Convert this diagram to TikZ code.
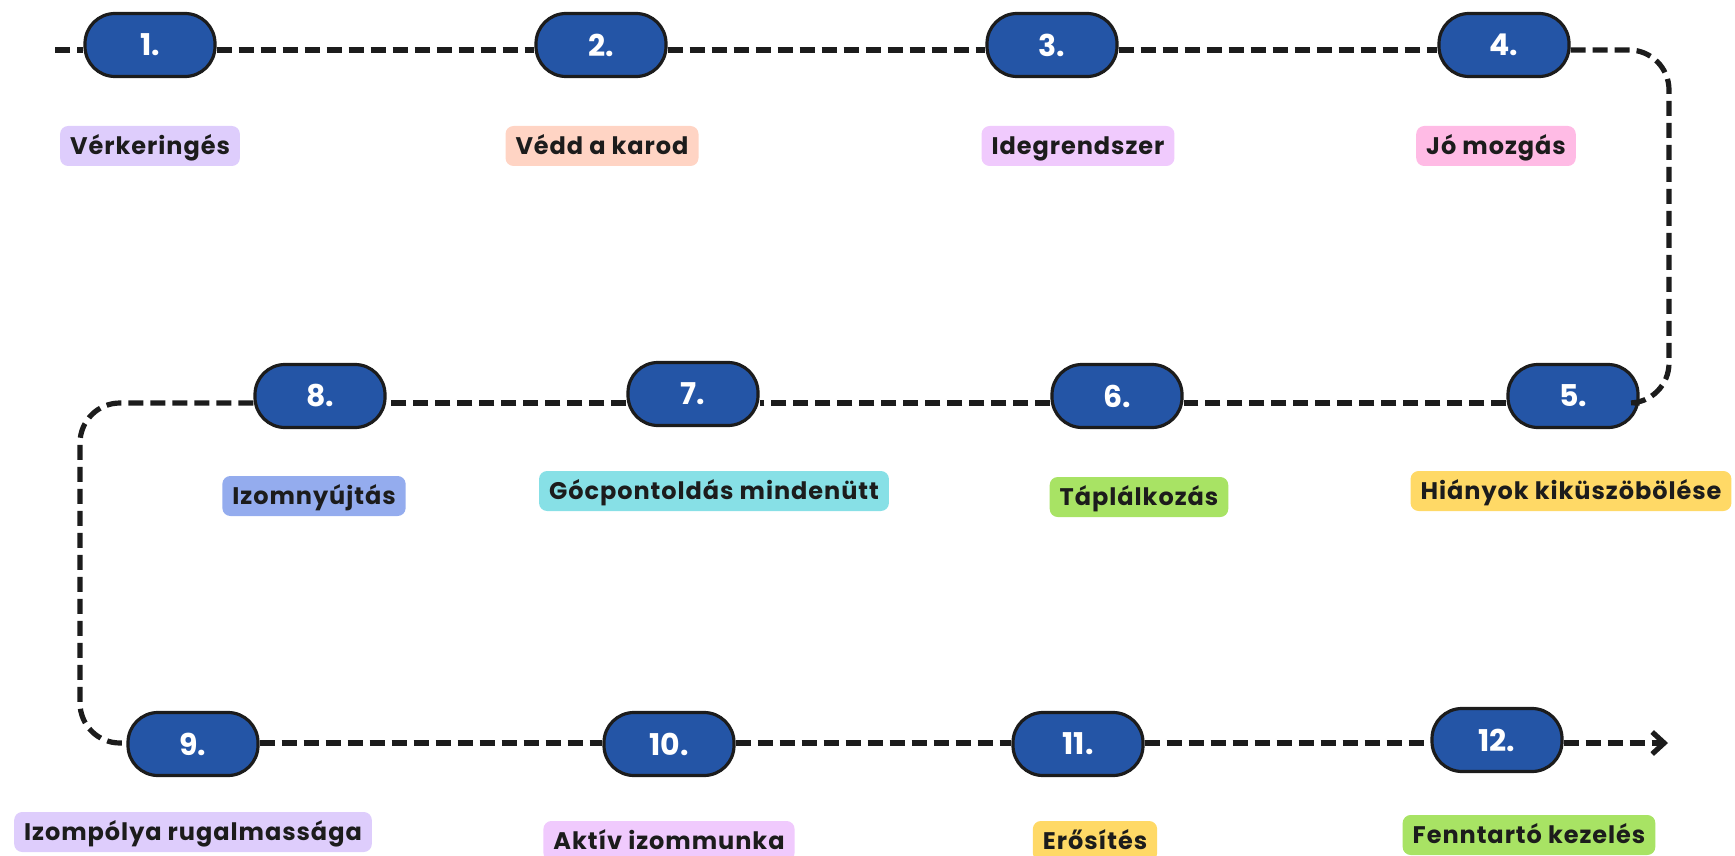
\documentclass[tikz,border=0pt]{standalone}
\usepackage{fontspec}
\setmainfont{Poppins}
\usetikzlibrary{arrows.meta}
\definecolor{nodeblue}{RGB}{36,85,166}
\definecolor{txt}{RGB}{28,28,28}
\definecolor{cLav}{RGB}{222,205,252}
\definecolor{cPeach}{RGB}{255,212,196}
\definecolor{cOrch}{RGB}{240,202,253}
\definecolor{cPink}{RGB}{255,187,229}
\definecolor{cYel}{RGB}{255,217,102}
\definecolor{cGrn}{RGB}{168,227,100}
\definecolor{cCyan}{RGB}{135,224,230}
\definecolor{cPeri}{RGB}{148,172,238}
\begin{document}
\begin{tikzpicture}[x=0.5pt,y=-0.5pt,
  stepnode/.style={draw=txt, line width=1.6pt, fill=nodeblue, rounded corners=15pt,
    minimum width=65pt, minimum height=31.5pt, inner sep=0pt, text=white,
    font=\fontsize{15}{17}\selectfont\bfseries},
  lbl/.style={rounded corners=4pt, minimum height=20pt, inner xsep=5pt, inner ysep=0pt,
    text height=8.4pt, text depth=0pt, text=txt,
    font=\fontsize{12}{14}\selectfont\bfseries\addfontfeatures{LetterSpace=4}},
  flow/.style={line width=2.6pt, dash pattern=on 7.5pt off 3.5pt, draw=txt}]
\useasboundingbox (0,0) rectangle (1735,856);
% row line levels
\coordinate (r1) at (0,50);
\coordinate (r2) at (0,403);
\coordinate (r3) at (0,743);
\coordinate (start) at (55,50);
\coordinate (rc) at (1669,220);
\coordinate (lc) at (80,570);
\coordinate (end) at (1668,743);
% step nodes
\node[stepnode] (n1) at (150,45) {1.};
\node[stepnode] (n2) at (601,45) {2.};
\node[stepnode] (n3) at (1052,45) {3.};
\node[stepnode] (n4) at (1504,45) {4.};
\node[stepnode] (n5) at (1573,396) {5.};
\node[stepnode] (n6) at (1117,396) {6.};
\node[stepnode] (n7) at (693,394) {7.};
\node[stepnode] (n8) at (320,396) {8.};
\node[stepnode] (n9) at (193,744) {9.};
\node[stepnode] (n10) at (669,744) {10.};
\node[stepnode] (n11) at (1078,744) {11.};
\node[stepnode] (n12) at (1497,740) {12.};
% labels
\node[lbl, fill=cLav] (l1) at (150,146) {Vérkeringés};
\node[lbl, fill=cPeach] (l2) at (602,146) {Védd a karod};
\node[lbl, fill=cOrch] (l3) at (1078,146) {Idegrendszer};
\node[lbl, fill=cPink] (l4) at (1496,146) {Jó mozgás};
\node[lbl, fill=cYel] (l5) at (1571,491) {Hiányok kiküszöbölése};
\node[lbl, fill=cGrn] (l6) at (1139,497) {Táplálkozás};
\node[lbl, fill=cCyan] (l7) at (714,491) {Gócpontoldás mindenütt};
\node[lbl, fill=cPeri] (l8) at (314,496) {Izomnyújtás};
\node[lbl, fill=cLav] (l9) at (193,832) {Izompólya rugalmassága};
\node[lbl, fill=cOrch] (l10) at (669,841) {Aktív izommunka};
\node[lbl, fill=cYel] (l11) at (1095,841) {Erősítés};
\node[lbl, fill=cGrn] (l12) at (1529,835) {Fenntartó kezelés};
% connectors
\draw[flow] (start) -- (n1.west |- r1);
\draw[flow] (n1.east |- r1) -- (n2.west |- r1);
\draw[flow] (n2.east |- r1) -- (n3.west |- r1);
\draw[flow] (n3.east |- r1) -- (n4.west |- r1);
\draw[flow, rounded corners=20pt] (n4.east |- r1) -| (rc) |- (n5.east |- r2);
\draw[flow] (n5.west |- r2) -- (n6.east |- r2);
\draw[flow] (n6.west |- r2) -- (n7.east |- r2);
\draw[flow] (n7.west |- r2) -- (n8.east |- r2);
\draw[flow, rounded corners=20pt] (n8.west |- r2) -| (lc) |- (n9.west |- r3);
\draw[flow] (n9.east |- r3) -- (n10.west |- r3);
\draw[flow] (n10.east |- r3) -- (n11.west |- r3);
\draw[flow] (n11.east |- r3) -- (n12.west |- r3);
\draw[flow, -{Straight Barb[length=6pt,width=11pt]}] (n12.east |- r3) -- (end);
\end{tikzpicture}
\end{document}
